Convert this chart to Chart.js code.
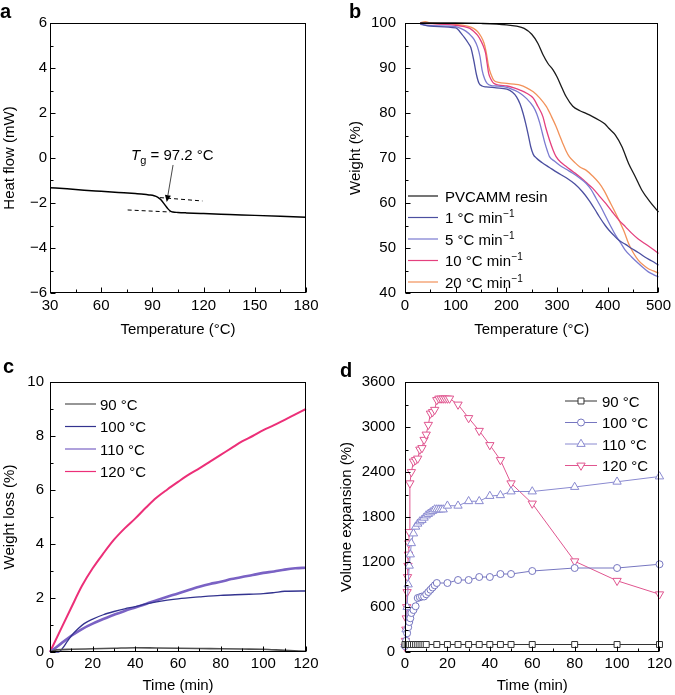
<!DOCTYPE html>
<html><head><meta charset="utf-8">
<script src="https://cdn.jsdelivr.net/npm/chart.js@4.4.1/dist/chart.umd.min.js"></script>
<style>
html,body{margin:0;padding:0;background:#fff;}
#wrap{position:relative;width:675px;height:695px;overflow:hidden;background:#fff;}
canvas{position:absolute;}
</style></head><body>
<div id="wrap">
<canvas id="ca" width="337" height="340" style="left:0;top:0;width:337px;height:340px"></canvas>
<canvas id="cb" width="338" height="340" style="left:337px;top:0;width:338px;height:340px"></canvas>
<canvas id="cc" width="337" height="355" style="left:0;top:340px;width:337px;height:355px"></canvas>
<canvas id="cd" width="338" height="355" style="left:337px;top:340px;width:338px;height:355px"></canvas>
</div>
<script>
// ---------- Panel a: DSC ----------
const aTemp = [30, 40, 50, 60, 70, 80, 85, 88, 91, 93, 95, 97, 99, 100.5, 102, 105, 110, 120, 135, 150, 165, 180];
const aHeat = [-1.32, -1.37, -1.43, -1.48, -1.53, -1.58, -1.61, -1.64, -1.68, -1.74, -1.86, -2.05, -2.25, -2.36, -2.40, -2.42, -2.44, -2.47, -2.51, -2.55, -2.59, -2.63];
const aTanUpX = [94.5, 119.3], aTanUpY = [-1.76, -1.91];
const aTanLoX = [75.5, 100.3], aTanLoY = [-2.31, -2.40];
const aNote = {text: ' = 97.2 \u00B0C', tx: 77.5, ty: -0.09, arrowFrom: [102.1, -0.31], arrowTo: [98.4, -1.96]};

// ---------- Panel b: TGA ----------
const bLabels = ['PVCAMM resin', '1 \u00B0C min', '5 \u00B0C min', '10 \u00B0C min', '20 \u00B0C min'];
const bSup = ['', '\u22121', '\u22121', '\u22121', '\u22121'];
const bPvT = [30,100,150,200,220,235,250,262,272,282,292,300,310,318,331,345,357,370,383,395,402,415,428,441,454,467,483,500];
const bPvW = [100,100,99.9,99.6,99.3,98.8,97.5,95.5,93.0,91.0,89.6,88.0,85.5,83.6,81.5,80.5,79.9,79.2,78.4,77.5,76.6,75.1,72.5,68.8,65.9,62.9,60.3,58.0];
const b1T = [30,50,100,105,110,117,125,130,136,141,146,152,160,180,201,212,220,227,233,238,243,248,253,259,270,285,300,318,335,350,363,375,383,395,402,412,422,435,447,460,473,487,500];
const b1W = [99.8,99.3,98.9,98.5,97.8,96.8,95.5,94.5,91.5,88.5,86.6,86.0,85.8,85.6,85.3,84.6,83.6,82.0,79.9,77.7,75.2,72.5,70.8,70.0,69.0,67.9,66.8,65.6,64.2,62.5,60.6,58.5,57.0,55.0,54.0,52.8,51.7,50.8,49.9,49.0,48.0,47.1,46.2];
const b5T = [30,50,100,110,120,130,137,143,148,152,157,162,170,180,201,215,227,240,253,260,266,271,276,281,285,295,305,318,331,345,357,367,377,387,396,405,415,425,434,447,460,470,480,490,500];
const b5W = [99.7,99.4,99.2,98.8,98.2,97.2,96.2,94.7,92.5,89.6,87.6,86.6,86.1,86.0,85.7,85.1,84.4,83.2,81.4,79.8,77.7,75.5,73.3,71.5,70.3,69.3,68.4,67.5,66.6,65.5,64.4,63.0,61.0,59.0,57.0,55.0,52.9,51.2,49.6,48.0,46.6,45.6,44.7,44.1,43.6];
const b10T = [30,100,117,128,136,143,149,154,159,162,165,170,175,185,201,215,227,240,253,262,272,278,285,292,298,308,318,331,344,357,370,383,396,409,422,435,447,460,473,487,500];
const b10W = [100,99.5,99.2,98.8,98.1,97.3,96.2,95.0,93.3,91.0,88.8,87.4,86.6,86.2,86.0,85.6,85.1,84.4,83.3,81.5,79.2,76.6,74.0,71.8,70.3,69.0,68.1,67.0,65.9,64.6,63.3,61.6,59.9,58.0,56.2,54.7,53.3,52.0,51.0,49.9,48.8];
const b20T = [30,40,50,100,123,135,143,150,156,161,165,170,175,185,201,215,227,240,253,266,279,289,298,305,311,318,324,335,345,357,370,383,393,402,412,422,432,441,450,460,470,480,490,500];
const b20W = [100,100.3,100,99.7,99.3,98.8,98.1,97.0,95.5,93.0,90.3,88.5,87.3,86.8,86.6,86.4,86.2,85.6,84.7,83.3,81.4,79.2,77.0,75.0,73.3,71.5,70.3,69.0,68.0,67.3,66.0,64.4,62.7,60.7,58.5,56.2,53.7,51.0,49.0,47.3,46.2,45.4,44.9,44.4];

// ---------- Panel c: isothermal weight loss ----------
const cLabels = ['90 \u00B0C', '100 \u00B0C', '110 \u00B0C', '120 \u00B0C'];
const c90T = [0,3,10,20,30,40,50,60,70,80,90,100,110,120];
const c90V = [0,0.08,0.10,0.12,0.14,0.16,0.15,0.14,0.13,0.12,0.11,0.10,0.06,0.03];
const c100T = [0,4,6,8,10,13,16,20,25,30,35,40,45,50,55,60,70,80,90,100,105,110,120];
const c100V = [0,0,0.15,0.38,0.6,0.85,1.05,1.22,1.38,1.5,1.6,1.68,1.78,1.86,1.92,1.97,2.04,2.1,2.13,2.16,2.2,2.25,2.26];
const c110T = [0,5,10,15,20,25,30,35,40,45,50,55,60,65,70,75,80,85,90,95,100,105,110,115,120];
const c110V = [0,0.3,0.6,0.85,1.05,1.22,1.38,1.52,1.65,1.78,1.92,2.05,2.17,2.3,2.42,2.52,2.6,2.7,2.78,2.85,2.93,2.98,3.05,3.1,3.12];
const c120T = [0,5,10,15,20,25,30,35,40,45,50,55,60,65,70,75,80,85,90,95,100,105,110,115,120];
const c120V = [0,0.83,1.65,2.45,3.1,3.65,4.16,4.58,4.95,5.35,5.72,6.02,6.3,6.57,6.8,7.05,7.3,7.55,7.8,8.0,8.22,8.4,8.6,8.8,9.0];

// ---------- Panel d: volume expansion ----------
const dLabels = ['90 \u00B0C', '100 \u00B0C', '110 \u00B0C', '120 \u00B0C'];
const d90T = [0,1,2,3,4,5,6,7,8,9,10,15,20,25,30,35,40,45,50,60,80,100,120];
const d90V = [100,100,100,100,100,100,100,100,100,100,100,100,100,100,100,100,100,100,100,100,100,100,100];
const d100T = [0,0.5,1,1.5,2,2.5,3,4,5,6,7,8,9,10,11,12,13,14,15,20,25,30,35,40,45,50,60,80,100,120];
const d100V = [80,150,250,330,400,450,520,560,610,720,730,740,740,770,800,830,860,890,920,920,960,960,1000,1000,1040,1040,1080,1120,1120,1170];
const d110T = [0,0.5,1,1.5,2,2.5,3,4,5,6,7,8,9,10,11,12,13,14,15,16,17,18,20,25,30,35,40,45,50,60,80,100,120];
const d110V = [100,300,600,900,1150,1300,1450,1580,1670,1710,1740,1760,1790,1820,1840,1860,1880,1900,1900,1900,1900,1900,1950,1950,2010,2010,2080,2090,2140,2140,2200,2270,2340];
const d120T = [0,0.2,0.4,0.6,0.8,1.0,1.2,1.4,1.6,1.8,2.0,2.3,3,4,5,6,7,8,9,10,11,12,13,14,15,16,17,18,19,20,21,25,30,35,40,45,50,60,80,100,120];
const d120V = [70,150,300,450,600,800,1000,1150,1300,1450,1600,2250,2400,2540,2560,2580,2700,2720,2830,2900,3030,3180,3200,3230,3360,3380,3380,3380,3380,3380,3380,3300,3120,2950,2760,2560,2250,1980,1210,950,770];

// ---------- helpers ----------
const FONT = '"Liberation Sans", Arial, Helvetica, sans-serif';
const FS = 15;
Chart.defaults.font.family = FONT;
Chart.defaults.font.size = FS;
Chart.defaults.color = '#000';
const pts = (xs, ys) => xs.map((x, i) => ({x: x, y: ys[i]}));
const isMajor = (v, major, base) => Math.abs((v - base) / major - Math.round((v - base) / major)) < 1e-6;
const fmt = v => String(v).replace('-', '\u2212');

function axis(min, max, step, major, base, title, o) {
  return {
    type: 'linear', min: min, max: max,
    grid: {display: false, drawTicks: false},
    border: {display: false},
    ticks: {stepSize: step, autoSkip: false, maxRotation: 0, padding: o.pad, color: '#000', font: {size: FS},
      callback: v => isMajor(v, major, base) ? fmt(v) : ''},
    title: {display: true, text: title, color: '#000', font: {size: FS}, padding: o.tpad},
    afterFit: s => { if (o.w !== undefined) s.width = o.w; if (o.h !== undefined) s.height = o.h; }
  };
}

const framePlugin = {
  id: 'frame',
  afterDraw(chart, args, o) {
    const ctx = chart.ctx, a = chart.chartArea, xs = chart.scales.x, ys = chart.scales.y;
    ctx.save();
    ctx.strokeStyle = '#000'; ctx.lineWidth = 1;
    const L = Math.round(a.left) + 0.5, R = Math.round(a.right) - 0.5, T = Math.round(a.top) + 0.5, B = Math.round(a.bottom) - 0.5;
    ctx.strokeRect(L, T, R - L, B - T);
    ctx.beginPath();
    xs.ticks.forEach(t => { const p = Math.round(xs.getPixelForValue(t.value)) + 0.5; const len = t.label !== '' ? 5 : 3; ctx.moveTo(p, B); ctx.lineTo(p, B - len); });
    ys.ticks.forEach(t => { const p = Math.round(ys.getPixelForValue(t.value)) + 0.5; const len = t.label !== '' ? 5 : 3; ctx.moveTo(L, p); ctx.lineTo(L + len, p); });
    ctx.stroke();
    ctx.fillStyle = '#000';
    ctx.font = 'bold 20px ' + FONT;
    ctx.textBaseline = 'alphabetic';
    ctx.textAlign = 'left';
    ctx.fillText(o.letter, o.lx, o.ly);
    ctx.restore();
  }
};

const legendPlugin = {
  id: 'lg',
  afterDatasetsDraw(chart, args, o) {
    if (!o || !o.items) return;
    const ctx = chart.ctx;
    ctx.save();
    o.items.forEach((idx, i) => {
      const ds = chart.data.datasets[idx];
      const y = o.y0 + i * o.dy;
      ctx.strokeStyle = ds.borderColor; ctx.lineWidth = o.lw || 1.2;
      ctx.setLineDash([]);
      ctx.beginPath(); ctx.moveTo(o.x0, y); ctx.lineTo(o.x1, y); ctx.stroke();
      if (o.markers) {
        ctx.fillStyle = '#fff'; ctx.lineWidth = 1;
        Chart.helpers.drawPoint(ctx, {pointStyle: ds.pointStyle, rotation: ds.pointRotation || 0, radius: ds.pointRadius, borderWidth: 1}, (o.x0 + o.x1) / 2, y);
      }
      ctx.fillStyle = '#000';
      ctx.font = '15px ' + FONT;
      ctx.textBaseline = 'alphabetic'; ctx.textAlign = 'left';
      ctx.fillText(ds.label, o.tx, y + 5.5);
      if (ds.sup) {
        const w = ctx.measureText(ds.label).width;
        ctx.font = '10px ' + FONT;
        ctx.fillText(ds.sup, o.tx + w + 0.5, y - 0.5);
      }
    });
    ctx.restore();
  }
};

const notePlugin = {
  id: 'note',
  afterDatasetsDraw(chart, args, o) {
    if (!o || !o.text) return;
    const ctx = chart.ctx, xs = chart.scales.x, ys = chart.scales.y;
    ctx.save();
    ctx.fillStyle = '#000';
    ctx.textBaseline = 'alphabetic'; ctx.textAlign = 'left';
    let x = xs.getPixelForValue(o.tx), y = ys.getPixelForValue(o.ty);
    ctx.font = 'italic 15px ' + FONT;
    ctx.fillText('T', x, y);
    x += ctx.measureText('T').width;
    ctx.font = '11px ' + FONT;
    ctx.fillText('g', x, y + 4);
    x += ctx.measureText('g').width;
    ctx.font = '15px ' + FONT;
    ctx.fillText(o.text, x, y);
    const x1 = xs.getPixelForValue(o.arrowFrom[0]), y1 = ys.getPixelForValue(o.arrowFrom[1]);
    const x2 = xs.getPixelForValue(o.arrowTo[0]), y2 = ys.getPixelForValue(o.arrowTo[1]);
    const ang = Math.atan2(y2 - y1, x2 - x1);
    const hl = 7, hw = 3;
    ctx.strokeStyle = '#333'; ctx.lineWidth = 0.9;
    ctx.beginPath(); ctx.moveTo(x1, y1);
    ctx.lineTo(x2 - Math.cos(ang) * hl, y2 - Math.sin(ang) * hl); ctx.stroke();
    ctx.fillStyle = '#000';
    ctx.beginPath();
    ctx.moveTo(x2, y2);
    ctx.lineTo(x2 - Math.cos(ang) * hl - Math.sin(ang) * hw, y2 - Math.sin(ang) * hl + Math.cos(ang) * hw);
    ctx.lineTo(x2 - Math.cos(ang) * hl + Math.sin(ang) * hw, y2 - Math.sin(ang) * hl - Math.cos(ang) * hw);
    ctx.closePath(); ctx.fill();
    ctx.restore();
  }
};

function line(label, data, color, width, extra) {
  return Object.assign({label: label, data: data, borderColor: color, backgroundColor: color, borderWidth: width,
    pointRadius: 0, fill: false, cubicInterpolationMode: 'monotone', clip: false}, extra || {});
}

const common = (pad) => ({
  responsive: false, animation: false, maintainAspectRatio: false,
  layout: {padding: pad},
  events: [],
});

// ---------- chart a ----------
new Chart(document.getElementById('ca'), {
  type: 'line',
  data: {datasets: [
    line('DSC', pts(aTemp, aHeat), '#000', 1.5),
    line('tan1', pts(aTanUpX, aTanUpY), '#000', 1, {borderDash: [4, 3]}),
    line('tan2', pts(aTanLoX, aTanLoY), '#000', 1, {borderDash: [4, 3]})
  ]},
  options: Object.assign(common({left: 0, top: 23, right: 31, bottom: 0}), {
    scales: {
      x: axis(30, 180, 15, 30, 0, 'Temperature (\u00B0C)', {pad: 4, tpad: {top: 0, bottom: 1}, h: 47}),
      y: axis(-6, 6, 1, 2, 0, 'Heat flow (mW)', {pad: 3, tpad: {top: 1, bottom: 0}, w: 50})
    },
    plugins: {legend: {display: false}, tooltip: {enabled: false},
      frame: {letter: 'a', lx: 0, ly: 18},
      note: aNote}
  }),
  plugins: [framePlugin, notePlugin]
});

// ---------- chart b ----------
const bColors = ['#1a1a1a', '#4b4fa0', '#7b7bd0', '#e4407e', '#f2925a'];
const bSeries = [[bPvT, bPvW], [b1T, b1W], [b5T, b5W], [b10T, b10W], [b20T, b20W]];
new Chart(document.getElementById('cb'), {
  type: 'line',
  data: {datasets: bSeries.map((s, i) => line(bLabels[i], pts(s[0], s[1]), bColors[i], 1.3, {sup: bSup[i]}))},
  options: Object.assign(common({left: 0, top: 23, right: 13, bottom: 0}), {
    scales: {
      x: axis(0, 500, 50, 100, 0, 'Temperature (\u00B0C)', {pad: 4, tpad: {top: 0, bottom: 1}, h: 47}),
      y: axis(40, 100, 5, 10, 0, 'Weight (%)', {pad: 9, tpad: {top: 10, bottom: 0}, w: 68})
    },
    plugins: {legend: {display: false}, tooltip: {enabled: false},
      frame: {letter: 'b', lx: 12, ly: 18},
      lg: {items: [0, 1, 2, 3, 4], x0: 71, x1: 101, tx: 108, y0: 196, dy: 21.5}}
  }),
  plugins: [framePlugin, legendPlugin]
});

// ---------- chart c ----------
const cColors = ['#505050', '#33338f', '#7a62c4', '#ec2f78'];
const cWidths = [1.6, 1.3, 2.6, 2];
const cSeries = [[c90T, c90V], [c100T, c100V], [c110T, c110V], [c120T, c120V]];
new Chart(document.getElementById('cc'), {
  type: 'line',
  data: {datasets: cSeries.map((s, i) => line(cLabels[i], pts(s[0], s[1]), cColors[i], cWidths[i]))},
  options: Object.assign(common({left: 0, top: 42, right: 31, bottom: 0}), {
    scales: {
      x: axis(0, 120, 10, 20, 0, 'Time (min)', {pad: 3, tpad: {top: 0, bottom: 0}, h: 43}),
      y: axis(0, 10, 1, 2, 0, 'Weight loss (%)', {pad: 6, tpad: {top: 1, bottom: 0}, w: 50})
    },
    plugins: {legend: {display: false}, tooltip: {enabled: false},
      frame: {letter: 'c', lx: 3, ly: 33},
      lg: {items: [0, 1, 2, 3], x0: 65, x1: 96, tx: 100, y0: 64, dy: 22.5, lw: 1.2}}
  }),
  plugins: [framePlugin, legendPlugin]
});

// ---------- chart d ----------
const dColors = ['#333333', '#7676c0', '#8a8ad0', '#e0558f'];
const dStyles = [['rect', 0, 4.2], ['circle', 0, 3.5], ['triangle', 0, 4.8], ['triangle', 180, 4.8]];
const dSeries = [[d90T, d90V], [d100T, d100V], [d110T, d110V], [d120T, d120V]];
new Chart(document.getElementById('cd'), {
  type: 'line',
  data: {datasets: dSeries.map((s, i) => ({
    label: dLabels[i], data: pts(s[0], s[1]), borderColor: dColors[i], backgroundColor: '#fff',
    borderWidth: 1, tension: 0, fill: false, clip: false,
    pointStyle: dStyles[i][0], pointRotation: dStyles[i][1], pointRadius: dStyles[i][2],
    pointBorderWidth: 1, pointBackgroundColor: '#fff', pointBorderColor: dColors[i]
  }))},
  options: Object.assign(common({left: 0, top: 42, right: 13, bottom: 0}), {
    scales: {
      x: axis(0, 120, 10, 20, 0, 'Time (min)', {pad: 3, tpad: {top: 0, bottom: 0}, h: 43}),
      y: axis(0, 3600, 300, 600, 0, 'Volume expansion (%)', {pad: 10, tpad: {top: 1, bottom: 0}, w: 68})
    },
    plugins: {legend: {display: false}, tooltip: {enabled: false},
      frame: {letter: 'd', lx: 3, ly: 37},
      lg: {items: [0, 1, 2, 3], x0: 228, x1: 260, tx: 265, y0: 61, dy: 21.5, markers: true, lw: 1}}
  }),
  plugins: [framePlugin, legendPlugin]
});
</script>
</body></html>
